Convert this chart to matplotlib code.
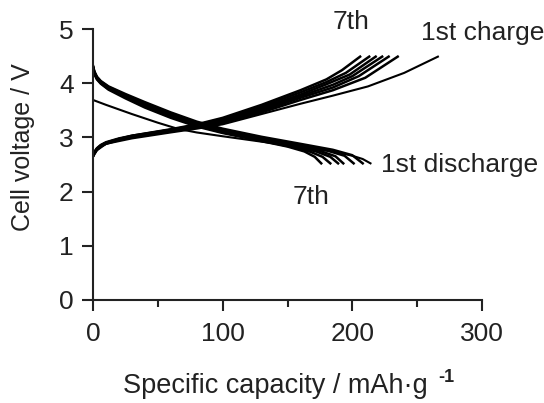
import numpy as np
import matplotlib
matplotlib.use("Agg")
import matplotlib.pyplot as plt

plt.rcParams['font.family'] = ['Liberation Sans', 'DejaVu Sans']

# charge curves (capacity in mAh/g, voltage in V), 1st cycle then 2nd..7th
charge_1_x = [0, 3, 10, 30, 60, 80, 100, 130, 160, 185, 212, 240, 266]
charge_1_v = [2.64, 2.76, 2.88, 2.98, 3.09, 3.16, 3.24, 3.43, 3.62, 3.77, 3.94, 4.19, 4.49]

charge_x = [
    [0, 1, 3, 6, 10, 20, 30, 60, 80, 100, 130, 160, 185, 210, 235],
    [0, 1, 3, 6, 10, 20, 30, 60, 80, 100, 130, 160, 185, 205, 228],
    [0, 1, 3, 6, 10, 20, 30, 60, 80, 100, 130, 160, 185, 200, 223],
    [0, 1, 3, 6, 10, 20, 30, 60, 80, 100, 130, 160, 180, 198, 218],
    [0, 1, 3, 6, 10, 20, 30, 60, 80, 100, 130, 160, 180, 195, 213],
    [0, 1, 3, 6, 10, 20, 30, 60, 80, 100, 130, 160, 180, 192, 206],
]
charge_v = [
    [2.65, 2.70, 2.77, 2.83, 2.88, 2.95, 3.00, 3.11, 3.18, 3.27, 3.46, 3.69, 3.87, 4.10, 4.49],
    [2.65, 2.71, 2.78, 2.84, 2.89, 2.96, 3.01, 3.12, 3.20, 3.29, 3.49, 3.73, 3.92, 4.13, 4.49],
    [2.66, 2.71, 2.78, 2.84, 2.89, 2.96, 3.02, 3.13, 3.21, 3.31, 3.52, 3.76, 3.97, 4.13, 4.49],
    [2.66, 2.72, 2.79, 2.85, 2.90, 2.97, 3.02, 3.14, 3.22, 3.32, 3.54, 3.79, 3.98, 4.16, 4.49],
    [2.66, 2.72, 2.79, 2.85, 2.90, 2.97, 3.03, 3.14, 3.23, 3.34, 3.57, 3.83, 4.02, 4.19, 4.49],
    [2.67, 2.73, 2.80, 2.86, 2.91, 2.98, 3.03, 3.15, 3.24, 3.36, 3.60, 3.87, 4.07, 4.24, 4.49],
]

# discharge curves, 1st cycle then 2nd..7th
discharge_1_x = [0, 10, 30, 50, 65, 80, 100, 130, 160, 185, 200, 208, 214]
discharge_1_v = [3.69, 3.60, 3.43, 3.27, 3.16, 3.09, 3.02, 2.92, 2.82, 2.74, 2.66, 2.60, 2.52]

discharge_x = [
    [0, 1, 3, 6, 12, 25, 40, 60, 80, 100, 130, 160, 185, 200, 208],
    [0, 1, 3, 6, 12, 25, 40, 60, 80, 100, 130, 160, 180, 194, 201],
    [0, 1, 3, 6, 12, 25, 40, 60, 80, 100, 130, 160, 175, 187, 193],
    [0, 1, 3, 6, 12, 25, 40, 60, 80, 100, 130, 160, 172, 183, 189],
    [0, 1, 3, 6, 12, 25, 40, 60, 80, 100, 130, 160, 168, 177, 183],
    [0, 1, 3, 6, 12, 25, 40, 60, 80, 100, 130, 150, 163, 171, 176],
]
discharge_v = [
    [4.32, 4.22, 4.12, 4.04, 3.94, 3.80, 3.65, 3.46, 3.29, 3.16, 3.01, 2.88, 2.77, 2.67, 2.52],
    [4.31, 4.21, 4.11, 4.03, 3.93, 3.78, 3.63, 3.44, 3.27, 3.14, 2.99, 2.86, 2.76, 2.66, 2.52],
    [4.30, 4.20, 4.10, 4.02, 3.91, 3.77, 3.61, 3.42, 3.25, 3.12, 2.97, 2.83, 2.75, 2.65, 2.52],
    [4.30, 4.19, 4.09, 4.01, 3.90, 3.75, 3.59, 3.40, 3.24, 3.11, 2.96, 2.81, 2.74, 2.64, 2.52],
    [4.29, 4.18, 4.08, 4.00, 3.89, 3.74, 3.57, 3.38, 3.22, 3.09, 2.94, 2.79, 2.73, 2.64, 2.52],
    [4.28, 4.17, 4.07, 3.99, 3.88, 3.72, 3.55, 3.36, 3.20, 3.08, 2.93, 2.83, 2.74, 2.64, 2.52],
]

fig = plt.figure(figsize=(5.44, 4.03), dpi=100)
ax = fig.add_axes([0.171, 0.256, 0.715, 0.672])

ax.plot(charge_1_x, charge_1_v, color='black', lw=1.5)
ax.plot(discharge_1_x, discharge_1_v, color='black', lw=1.5)
for xs, vs in zip(charge_x, charge_v):
    ax.plot(xs, vs, color='black', lw=1.8)
for xs, vs in zip(discharge_x, discharge_v):
    ax.plot(xs, vs, color='black', lw=1.8)

ax.set_xlim(0, 300)
ax.set_ylim(0, 5)
ax.set_xticks([0, 100, 200, 300])
ax.set_xticks([50, 150, 250], minor=True)
ax.set_yticks([0, 1, 2, 3, 4, 5])
for s in ['top', 'right']:
    ax.spines[s].set_visible(False)
for s in ['left', 'bottom']:
    ax.spines[s].set_linewidth(1.5)
    ax.spines[s].set_color('#222222')
ax.tick_params(which='major', direction='out', length=8, width=1.5,
               labelsize=19, colors='#222222', pad=8)
ax.tick_params(which='minor', direction='out', length=5, width=1.5, colors='#222222')
ax.tick_params(axis='y', pad=6)

# axis labels placed directly so the descenders stay inside the figure
fig.text(275 / 544, 1 - 393 / 403, 'Specific capacity / mAh·g', fontsize=19.5,
         color='#222222', ha='center', va='baseline')
fig.text(446 / 544, 1 - 377 / 403, '-1', fontsize=13, fontweight='bold',
         color='#222222', ha='center', va='center')
fig.text(23 / 544, 1 - 147 / 403, 'Cell voltage / V', fontsize=18, rotation=90,
         color='#222222', ha='center', va='center')

txt = dict(fontsize=19, color='#222222', va='center', clip_on=False)
ax.text(199, 5.13, '7th', ha='center', **txt)
ax.text(253, 4.93, '1st charge', ha='left', **txt)
ax.text(222, 2.49, '1st discharge', ha='left', **txt)
ax.text(168, 1.90, '7th', ha='center', **txt)

fig.savefig('out.png', dpi=100)
